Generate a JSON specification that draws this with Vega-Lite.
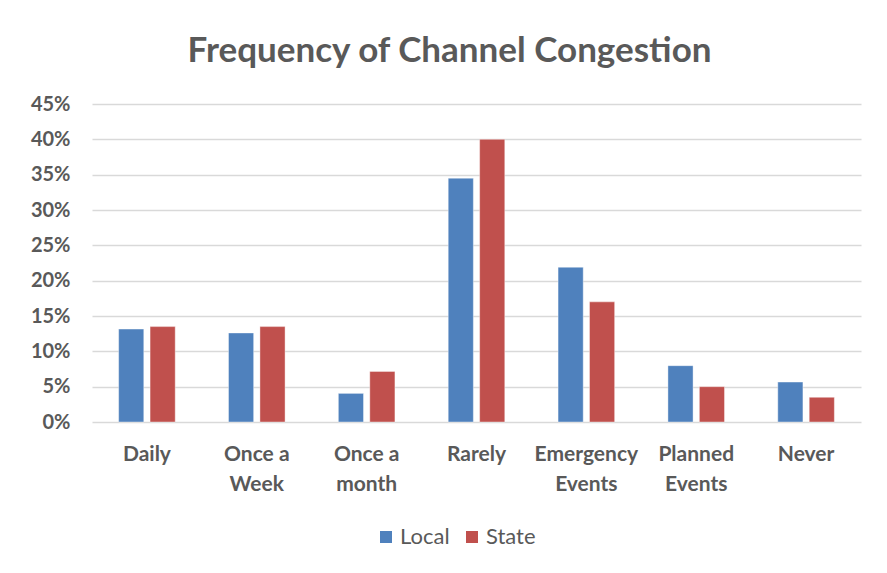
{
  "$schema": "https://vega.github.io/schema/vega-lite/v6.json",
  "autosize": "none",
  "width": 769,
  "height": 318,
  "padding": {"left": 92, "top": 104, "right": 26, "bottom": 151},
  "background": "white",
  "title": {
    "text": "Frequency of Channel Congestion",
    "font": "Lato",
    "fontSize": 35,
    "fontWeight": "bold",
    "color": "#595959",
    "anchor": "middle",
    "baseline": "alphabetic",
    "dx": -27,
    "offset": -3
  },
  "data": {
    "values": [
      {"category": "Daily", "group": "Local", "value": 0.1315},
      {"category": "Daily", "group": "State", "value": 0.135},
      {"category": "Once a Week", "group": "Local", "value": 0.126},
      {"category": "Once a Week", "group": "State", "value": 0.135},
      {"category": "Once a month", "group": "Local", "value": 0.0405},
      {"category": "Once a month", "group": "State", "value": 0.0716},
      {"category": "Rarely", "group": "Local", "value": 0.345},
      {"category": "Rarely", "group": "State", "value": 0.40},
      {"category": "Emergency Events", "group": "Local", "value": 0.219},
      {"category": "Emergency Events", "group": "State", "value": 0.170},
      {"category": "Planned Events", "group": "Local", "value": 0.0797},
      {"category": "Planned Events", "group": "State", "value": 0.050},
      {"category": "Never", "group": "Local", "value": 0.0565},
      {"category": "Never", "group": "State", "value": 0.035}
    ]
  },
  "mark": {"type": "bar", "stroke": "white", "strokeOpacity": 0.5, "strokeWidth": 0.8},
  "encoding": {
    "x": {
      "field": "category",
      "type": "nominal",
      "sort": ["Daily", "Once a Week", "Once a month", "Rarely", "Emergency Events", "Planned Events", "Never"],
      "scale": {"paddingInner": 0.485, "paddingOuter": 0.2425},
      "axis": {
        "title": null,
        "labelAngle": 0,
        "labelFont": "Lato",
        "labelFontSize": 21,
        "labelFontWeight": "bold",
        "labelColor": "#595959",
        "labelPadding": 21,
        "labelLineHeight": 30,
        "labelLimit": 200,
        "ticks": false,
        "domain": false,
        "labelExpr": "datum.label == 'Once a Week' ? ['Once a', 'Week'] : datum.label == 'Once a month' ? ['Once a', 'month'] : datum.label == 'Emergency Events' ? ['Emergency', 'Events'] : datum.label == 'Planned Events' ? ['Planned', 'Events'] : datum.label"
      }
    },
    "xOffset": {
      "field": "group",
      "type": "nominal",
      "scale": {"paddingInner": 0.2, "paddingOuter": 0}
    },
    "y": {
      "field": "value",
      "type": "quantitative",
      "scale": {"domain": [0, 0.45], "nice": false},
      "axis": {
        "title": null,
        "format": ".0%",
        "values": [0, 0.05, 0.1, 0.15, 0.2, 0.25, 0.3, 0.35, 0.4, 0.45],
        "labelFont": "Lato",
        "labelFontSize": 20,
        "labelFontWeight": "bold",
        "labelColor": "#595959",
        "labelPadding": 22,
        "ticks": false,
        "domain": false,
        "gridColor": "#d9d9d9",
        "gridWidth": 1.3
      }
    },
    "color": {
      "field": "group",
      "type": "nominal",
      "scale": {"domain": ["Local", "State"], "range": ["#4F81BD", "#C0504D"]},
      "legend": {
        "title": null,
        "orient": "none",
        "legendX": 283,
        "legendY": 422,
        "direction": "horizontal",
        "symbolType": "square",
        "symbolSize": 144,
        "symbolStrokeWidth": 0,
        "labelFont": "Lato",
        "labelFontSize": 22,
        "labelColor": "#595959",
        "columnPadding": 11,
        "labelOffset": 3
      }
    }
  },
  "config": {"view": {"stroke": null}}
}
